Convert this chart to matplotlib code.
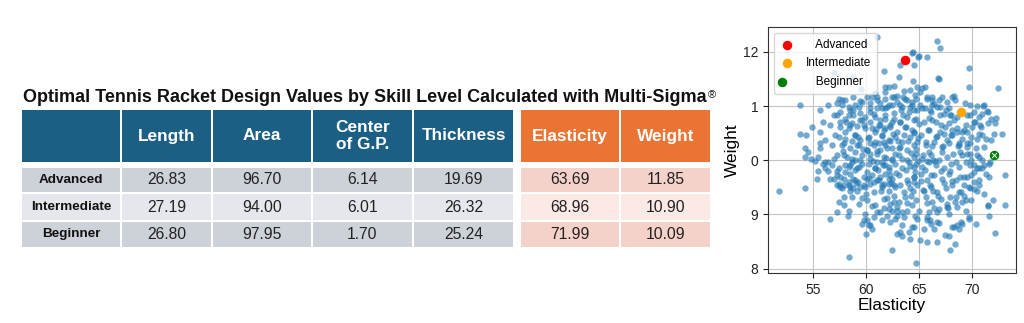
import matplotlib.pyplot as plt
from matplotlib.patches import Rectangle
from matplotlib.legend_handler import HandlerTuple
import numpy as np

plt.rcParams['font.family'] = ['Liberation Sans', 'DejaVu Sans']

# optimal values per skill level
levels = ['Advanced', 'Intermediate', 'Beginner']
design_cols = ['Length', 'Area', 'Center\nof G.P.', 'Thickness']
result_cols = ['Elasticity', 'Weight']
length = [26.83, 27.19, 26.80]
area = [96.70, 94.00, 97.95]
center_gp = [6.14, 6.01, 1.70]
thickness = [19.69, 26.32, 25.24]
elasticity = [63.69, 68.96, 71.99]
weight = [11.85, 10.90, 10.09]

# simulated designs (elasticity, weight)
cloud_top = [
    (66.67, 12.21), (66.98, 12.07), (64.40, 11.99), (64.87, 11.91), (65.72, 11.90), (63.14, 11.75),
    (64.46, 11.75), (69.65, 11.70), (63.05, 11.54), (64.41, 11.46), (66.79, 11.52), (66.85, 11.50),
    (62.58, 11.37), (64.78, 11.36), (65.50, 11.36), (65.25, 11.33), (69.65, 11.35), (72.42, 11.34),
    (63.52, 11.27), (64.15, 11.30), (62.42, 11.17), (62.90, 11.19), (63.46, 11.17), (63.84, 11.11),
    (64.62, 11.20), (65.72, 11.17), (66.20, 11.11), (67.14, 11.17), (68.08, 11.17), (68.40, 11.11),
    (67.61, 11.08), (69.34, 11.05), (69.81, 11.02), (70.44, 11.00), (71.01, 11.00), (63.21, 11.02),
    (64.15, 10.99), (65.09, 11.02), (65.57, 10.96), (66.20, 11.02), (66.98, 10.99), (67.76, 10.96),
    (71.39, 10.91), (67.92, 10.83), (68.55, 10.80), (69.81, 10.83), (70.60, 10.80), (72.26, 10.78),
    (72.11, 10.69), (70.28, 10.71), (70.75, 10.65), (69.97, 10.62), (69.50, 10.52), (68.55, 10.52),
    (68.08, 10.56), (72.01, 10.49), (72.80, 10.49), (71.70, 10.37), (70.91, 10.46), (70.44, 10.40),
    (69.81, 10.31), (68.71, 10.31), (69.50, 10.25), (61.01, 12.27), (64.31, 11.98), (64.94, 11.93),
    (61.63, 11.64), (61.79, 11.36), (58.80, 11.54), (56.92, 11.61), (55.66, 10.93),
    (53.77, 11.02), (56.44, 11.02), (57.24, 11.05), (57.71, 11.11), (58.33, 10.99), (58.96, 11.02),
    (59.59, 11.07), (60.07, 11.17), (60.38, 11.05), (61.01, 11.17), (61.79, 11.26), (62.11, 11.36),
]
cloud_left = [
    (53.77, 10.49), (54.34, 10.46), (54.88, 10.62), (55.66, 10.52), (56.13, 10.37), (56.60, 10.65),
    (57.08, 10.46), (57.55, 10.71), (58.02, 10.52), (58.49, 10.65), (58.96, 10.46), (59.43, 10.74),
    (59.91, 10.59), (60.38, 10.71), (60.85, 10.52), (61.32, 10.65), (61.79, 10.77), (62.26, 10.65),
    (55.66, 10.31), (56.76, 10.28), (57.86, 10.31), (59.12, 10.28), (60.38, 10.31), (61.63, 10.34),
    (57.55, 10.89), (58.33, 10.83), (58.80, 10.93), (59.43, 10.88), (60.38, 10.89), (61.01, 10.96),
    (61.79, 10.96), (62.42, 11.02), (56.92, 10.83), (55.97, 10.71),
    (51.82, 9.43), (54.25, 9.48), (54.78, 10.03), (55.19, 9.98), (56.60, 8.92), (58.40, 8.21),
    (62.42, 8.35), (60.00, 8.64), (58.24, 8.98), (57.24, 9.04), (59.59, 8.83), (60.07, 8.89),
    (60.38, 8.80), (60.69, 8.95), (61.01, 9.04), (61.48, 8.89), (61.95, 8.98), (62.42, 9.07),
    (55.35, 9.66), (55.50, 9.81), (56.13, 9.85), (56.44, 9.97), (56.92, 9.66), (57.39, 9.57),
    (57.86, 9.54), (58.49, 9.51), (58.80, 9.66), (59.27, 9.60), (59.43, 9.51), (60.07, 9.66),
    (60.38, 9.57), (61.01, 9.63), (61.63, 9.57), (62.11, 9.66), (62.58, 9.54), (54.25, 10.22),
    (54.56, 10.15), (54.25, 10.06), (55.66, 10.22), (55.50, 10.06), (55.97, 9.94), (56.44, 9.81),
    (56.76, 9.91), (57.24, 9.81), (57.55, 9.69), (58.02, 9.78), (58.49, 9.91), (58.65, 10.03),
    (59.12, 9.85), (59.59, 9.94), (60.07, 9.78), (60.85, 9.85), (61.32, 9.69), (61.79, 9.91),
    (62.26, 9.72), (56.60, 9.66), (57.24, 9.54), (57.71, 9.48), (58.33, 9.60), (58.80, 9.48),
    (59.75, 9.54), (60.69, 9.60), (61.48, 9.51), (62.11, 9.57), (56.13, 9.97), (56.92, 10.03),
    (57.86, 10.09), (58.96, 10.15), (60.07, 10.19), (61.01, 10.12), (61.95, 10.22), (62.42, 10.03),
]
cloud_right = [
    (73.11, 9.72), (73.05, 9.18), (71.92, 9.26), (71.45, 9.15), (71.60, 8.98), (72.08, 8.65),
    (70.60, 9.54), (69.65, 8.96), (69.03, 8.83), (68.55, 8.80), (68.08, 8.77), (68.71, 8.74),
    (68.40, 8.46), (67.76, 8.61), (67.45, 8.62), (67.86, 8.35), (66.67, 8.49), (65.72, 8.49),
    (65.09, 8.52), (66.35, 8.74), (66.83, 8.85), (66.04, 8.89), (64.72, 8.11), (64.15, 8.55),
    (62.90, 8.64), (63.21, 8.67), (63.37, 8.61), (64.46, 8.76), (64.62, 8.98), (65.72, 8.95),
    (66.67, 9.04), (67.61, 9.14), (68.40, 9.23), (69.18, 9.35), (69.81, 9.48), (70.13, 9.60),
    (69.50, 9.69), (71.07, 9.91), (71.54, 9.69), (70.44, 9.85), (69.81, 9.91), (62.58, 9.23),
    (62.90, 9.14), (63.37, 9.04), (63.84, 9.07), (67.92, 9.32), (68.71, 9.41), (69.18, 9.54),
    (70.13, 9.78), (70.60, 9.85), (70.91, 10.00), (71.63, 9.97), (69.81, 10.12), (70.44, 10.09),
    (68.87, 10.15),
]
cloud_core = [
    (57.39, 11.14), (58.02, 11.11), (58.80, 11.16), (59.43, 11.09), (60.53, 11.17), (61.01, 11.11),
    (61.79, 11.14), (62.58, 11.17), (62.89, 11.08), (63.68, 11.14), (64.31, 11.08), (57.70, 11.02),
    (58.49, 10.93), (59.28, 10.99), (60.38, 10.96), (61.48, 10.96), (62.11, 11.02), (63.36, 10.99),
    (63.99, 10.90), (57.23, 10.83), (58.02, 10.77), (58.80, 10.83), (59.59, 10.74), (60.85, 10.80),
    (61.32, 10.74), (61.79, 10.83), (62.58, 10.77), (63.21, 10.71), (63.84, 10.80), (64.46, 10.74),
    (57.55, 10.62), (58.33, 10.59), (58.65, 10.68), (59.75, 10.65), (60.53, 10.59), (61.16, 10.65),
    (61.63, 10.56), (62.26, 10.62), (62.89, 10.52), (63.68, 10.62), (64.31, 10.56), (57.39, 10.43),
    (58.02, 10.40), (58.96, 10.46), (59.43, 10.37), (60.22, 10.43), (60.85, 10.34), (61.48, 10.46),
    (62.11, 10.37), (62.74, 10.43), (63.36, 10.34), (64.15, 10.43), (57.70, 10.28), (58.49, 10.22),
    (59.28, 10.28), (60.06, 10.19), (60.69, 10.28), (61.32, 10.19), (61.79, 10.28), (62.42, 10.22),
    (63.21, 10.25), (63.84, 10.19), (64.46, 10.28), (57.23, 10.09), (58.18, 10.06), (58.96, 10.00),
    (59.59, 10.09), (60.38, 10.03), (61.01, 9.97), (61.63, 10.06), (62.42, 10.00), (63.05, 10.09),
    (63.84, 10.00), (64.46, 10.06),
    (64.65, 11.14), (65.76, 11.14), (66.23, 11.16), (66.86, 11.11), (68.27, 11.19), (71.10, 11.02),
    (71.42, 10.90), (64.50, 10.93), (65.28, 10.96), (66.07, 10.90), (66.70, 10.99), (67.33, 10.86),
    (67.96, 10.83), (69.53, 10.83), (70.16, 10.90), (70.94, 10.86), (71.73, 10.77), (64.65, 10.77),
    (65.44, 10.71), (66.23, 10.74), (67.01, 10.65), (67.80, 10.68), (68.59, 10.59), (69.37, 10.65),
    (70.16, 10.71), (70.79, 10.62), (71.42, 10.68), (64.50, 10.53), (65.13, 10.46), (65.91, 10.56),
    (66.54, 10.43), (67.33, 10.49), (68.11, 10.46), (69.06, 10.53), (69.84, 10.43), (70.63, 10.49),
    (71.26, 10.40), (64.81, 10.34), (65.60, 10.28), (66.38, 10.34), (67.17, 10.25), (67.80, 10.31),
    (68.74, 10.28), (69.53, 10.31), (70.31, 10.22), (71.10, 10.25), (64.65, 10.12), (65.28, 10.03),
    (66.07, 10.09), (66.86, 10.00), (67.64, 10.06), (68.43, 9.97), (69.06, 10.09), (69.84, 10.00),
    (70.63, 10.06),
    (57.39, 9.85), (58.02, 9.91), (58.65, 9.97), (59.28, 9.88), (60.22, 9.94), (60.85, 9.85),
    (61.48, 9.97), (62.11, 9.88), (62.74, 9.94), (63.36, 9.85), (63.99, 9.97), (64.46, 9.88),
    (57.23, 9.72), (57.86, 9.66), (58.49, 9.75), (58.96, 9.63), (59.75, 9.69), (60.53, 9.72),
    (61.16, 9.63), (61.79, 9.75), (62.42, 9.66), (63.05, 9.72), (63.84, 9.63), (64.46, 9.69),
    (57.55, 9.51), (58.33, 9.54), (59.12, 9.44), (59.91, 9.51), (60.69, 9.41), (61.48, 9.54),
    (62.11, 9.44), (62.74, 9.51), (63.52, 9.41), (64.15, 9.48), (57.39, 9.23), (57.86, 9.17),
    (58.65, 9.32), (59.28, 9.20), (60.06, 9.26), (60.85, 9.17), (61.63, 9.29), (62.26, 9.20),
    (63.05, 9.23), (63.68, 9.32), (64.31, 9.17), (58.33, 9.07), (59.91, 9.01), (61.32, 9.04),
    (62.11, 9.10), (62.89, 9.07), (63.52, 8.95), (59.75, 8.89), (60.22, 8.80), (60.53, 8.73),
    (62.26, 8.86), (62.74, 8.92), (63.36, 8.80), (64.31, 8.77),
    (64.65, 9.94), (65.28, 9.88), (65.91, 9.97), (66.54, 9.91), (67.33, 9.85), (67.96, 9.94),
    (68.74, 9.88), (69.37, 9.97), (70.16, 9.91), (70.94, 9.85), (71.57, 9.94), (64.50, 9.69),
    (65.13, 9.75), (65.76, 9.63), (66.38, 9.72), (67.17, 9.66), (67.80, 9.75), (68.43, 9.63),
    (69.21, 9.69), (69.84, 9.72), (70.63, 9.63), (71.26, 9.75), (64.81, 9.54), (65.44, 9.44),
    (66.07, 9.51), (66.70, 9.41), (67.49, 9.48), (68.11, 9.54), (68.90, 9.41), (69.69, 9.51),
    (70.47, 9.44), (71.10, 9.38), (64.65, 9.26), (65.60, 9.32), (66.23, 9.23), (67.01, 9.29),
    (67.64, 9.20), (68.43, 9.32), (69.06, 9.23), (69.84, 9.26), (71.42, 9.17), (64.97, 9.07),
    (65.91, 9.04), (66.86, 9.10), (67.80, 9.01), (68.59, 9.14), (69.37, 9.07), (64.81, 8.92),
    (65.76, 8.89), (66.07, 8.83), (66.70, 8.86), (68.27, 8.77), (68.90, 8.86), (69.69, 8.92),
    (70.31, 8.83),
]
cloud_dense = [
    (60.4, 10.12), (61.2, 10.31), (61.9, 10.05), (62.5, 10.48), (63.1, 10.22), (63.7, 10.61),
    (64.2, 10.14), (64.9, 10.42), (65.3, 10.09), (65.8, 10.55), (66.2, 10.27), (66.6, 10.70),
    (67.1, 10.16), (65.5, 9.83), (66.0, 9.55), (66.5, 9.98), (65.2, 9.62), (64.6, 9.79),
    (63.9, 9.58), (63.4, 10.02), (62.8, 9.77), (62.2, 10.36), (61.6, 9.92), (60.9, 10.58),
    (60.2, 10.41), (59.7, 10.20), (59.1, 10.63), (61.3, 11.05), (62.6, 10.87), (63.5, 10.83),
    (64.8, 10.93), (65.9, 10.78), (66.9, 10.52), (67.6, 10.38), (68.2, 10.11), (67.9, 9.80),
    (67.3, 9.58), (66.8, 9.35), (65.7, 9.21), (64.4, 9.44), (63.2, 9.55), (62.0, 9.30),
    (61.1, 9.82), (60.6, 9.99), (59.4, 10.01), (58.7, 10.35), (58.1, 10.70), (57.8, 10.18),
    (58.4, 9.88), (59.0, 9.59), (60.0, 9.38), (61.7, 9.12), (62.9, 8.98), (63.8, 9.21),
    (64.1, 9.90), (64.7, 10.21), (65.0, 10.67), (65.6, 10.33), (66.3, 10.01), (66.9, 10.84),
    (67.4, 10.62), (68.0, 10.47), (68.6, 10.27), (69.2, 10.55), (68.8, 9.69), (67.7, 9.12),
    (66.4, 9.12), (65.4, 8.73), (64.0, 8.68), (63.6, 10.46), (62.4, 10.70), (61.5, 10.44),
    (60.7, 10.86), (59.9, 10.79), (59.2, 10.43), (58.5, 9.43), (57.9, 9.32), (60.5, 9.16),
    (62.3, 9.58), (63.0, 10.35), (63.3, 10.93), (64.3, 11.02), (65.1, 11.26), (66.4, 11.03),
    (67.5, 10.92), (68.3, 10.74), (69.0, 10.39), (69.5, 10.12), (70.1, 9.47), (69.4, 9.26),
    (68.1, 9.62), (67.0, 9.81), (66.1, 9.72), (65.3, 9.45), (64.5, 9.60), (63.7, 9.83),
    (62.7, 10.11), (61.8, 10.60), (61.0, 10.18), (60.3, 9.68), (59.6, 9.31), (58.9, 9.82),
    (62.1, 9.83), (63.9, 10.36), (64.9, 9.99), (65.9, 10.16), (66.7, 10.44), (67.2, 10.27),
    (66.0, 10.92), (64.5, 10.50), (63.2, 10.71), (62.0, 10.99), (60.8, 11.25), (59.5, 11.31),
    (65.7, 9.98), (66.3, 9.43), (64.2, 9.35), (62.6, 9.34), (61.4, 9.44),
]
weight_ticks = [8, 9, 10, 11, 12]
weight_tick_labels = ['8', '9', '0', '1', '12']
elast_ticks = [55, 60, 65, 70]

cloud = np.array(cloud_top + cloud_left + cloud_right + cloud_core + cloud_dense)

fig = plt.figure(figsize=(10.24, 3.23), dpi=100)

# ---- table (pixel coords) ----
tab = fig.add_axes([0, 0, 1, 1])
tab.set_xlim(0, 1024)
tab.set_ylim(323, 0)
tab.axis('off')

col_edges = [(22, 120), (122, 211), (213, 311), (313, 412), (414, 513), (521, 619), (621, 710)]
head_y = (110, 162)
row_y = [(168, 192), (194, 220), (222, 247)]

blue = '#1b5f84'
orange = '#e97434'
gray_rows = ['#cdd1d8', '#e4e7eb', '#cdd1d8']
pink_rows = ['#f5d2c9', '#fae9e5', '#f5d2c9']

title = tab.text(23, 102, 'Optimal Tennis Racket Design Values by Skill Level Calculated with Multi-Sigma',
                 fontsize=13, fontweight='bold', ha='left', va='baseline', color='#111111')
tab.annotate('®', xy=(1, 1), xycoords=title, xytext=(1, -1), textcoords='offset points',
             fontsize=8, ha='left', va='top', color='#111111')

headers = [''] + design_cols + result_cols
for j, (x0, x1) in enumerate(col_edges):
    fc = blue if j < 5 else orange
    tab.add_patch(Rectangle((x0, head_y[0]), x1 - x0, head_y[1] - head_y[0], fc=fc, lw=0))
    tab.text((x0 + x1) / 2, sum(head_y) / 2, headers[j], color='white', fontsize=12.4,
             fontweight='bold', ha='center', va='center')

values = [length, area, center_gp, thickness, elasticity, weight]
for i, lvl in enumerate(levels):
    y0, y1 = row_y[i]
    for j, (x0, x1) in enumerate(col_edges):
        fc = gray_rows[i] if j < 5 else pink_rows[i]
        tab.add_patch(Rectangle((x0, y0), x1 - x0, y1 - y0, fc=fc, lw=0))
        if j == 0:
            tab.text((x0 + x1) / 2, (y0 + y1) / 2, lvl, fontsize=9.7, fontweight='bold',
                     ha='center', va='center', color='#111111')
        else:
            tab.text((x0 + x1) / 2, (y0 + y1) / 2, f'{values[j - 1][i]:.2f}', fontsize=11.3,
                     ha='center', va='center', color='#222222')

# ---- scatter ----
ax = fig.add_axes([768 / 1024, 1 - 273 / 323, 248 / 1024, 246 / 323])
ax.scatter(cloud[:, 0], cloud[:, 1], s=21, color='#1f77b4', alpha=0.62, lw=0)
h1 = ax.scatter(elasticity[0], weight[0], s=34, color='red', zorder=3)
h2 = ax.scatter(elasticity[1], weight[1], s=34, color='orange', zorder=3)
h3 = ax.scatter(elasticity[2], weight[2], s=34, color='green', zorder=3)
h3x = ax.scatter(elasticity[2], weight[2], s=12, marker='x', color='white', lw=0.7, zorder=4)

ax.legend([h1, h2, (h3, h3x)], ['   Advanced', 'Intermediate', '   Beginner'],
          handler_map={tuple: HandlerTuple(ndivide=None)}, loc='upper left', fontsize=8.5,
          handlelength=1.2, handletextpad=1.0, labelspacing=0.55, borderpad=0.5,
          framealpha=0.8, edgecolor='#cccccc')

ax.set_xlim(50.75, 74.1)
ax.set_ylim(7.92, 12.46)
ax.set_xticks(elast_ticks)
ax.set_yticks(weight_ticks)
ax.set_yticklabels(weight_tick_labels)
ax.grid(True, color='#c4c4c4', lw=0.8)
ax.set_axisbelow(True)
for sp in ax.spines.values():
    sp.set_color('#333333')
    sp.set_linewidth(0.8)
ax.tick_params(labelsize=10, length=3.5, width=0.8, colors='#222222')
ax.set_xlabel('Elasticity', fontsize=12.4, labelpad=1)
ax.set_ylabel('Weight', fontsize=12.4, labelpad=2)

fig.savefig('out.png', dpi=100)
